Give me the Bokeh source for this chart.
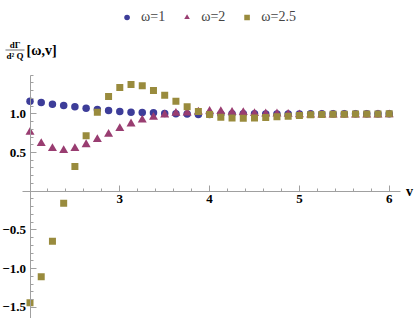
from bokeh.plotting import figure
from bokeh.models import FixedTicker, Legend, LegendItem, Label, BoxAnnotation, Range1d
from bokeh.embed import file_html
from bokeh.resources import INLINE

# ---- data ----
v = [2.0, 2.125, 2.25, 2.375, 2.5, 2.625, 2.75, 2.875, 3.0, 3.125, 3.25,
     3.375, 3.5, 3.625, 3.75, 3.875, 4.0, 4.125, 4.25, 4.375, 4.5, 4.625,
     4.75, 4.875, 5.0, 5.125, 5.25, 5.375, 5.5, 5.625, 5.75, 5.875, 6.0]

gamma_w1 = [1.163, 1.146, 1.124, 1.107, 1.090, 1.072, 1.055, 1.042, 1.029,
            1.021, 1.018, 1.013, 1.005, 1.000, 0.996, 0.990, 0.992, 0.996,
            1.000, 1.001, 1.000, 0.999, 0.998, 0.998, 0.999, 1.000, 1.000,
            1.000, 1.000, 1.000, 1.000, 1.000, 1.000]

gamma_w2 = [0.762, 0.616, 0.552, 0.526, 0.552, 0.603, 0.668, 0.736, 0.810,
            0.871, 0.922, 0.956, 0.987, 1.008, 1.013, 1.025, 1.034, 1.030,
            1.020, 1.017, 1.004, 1.000, 1.000, 0.995, 0.990, 0.985, 0.985,
            0.985, 0.985, 0.985, 0.985, 0.987, 0.990]

gamma_w25 = [-1.442, -1.106, -0.646, -0.155, 0.319, 0.716, 1.021, 1.224, 1.340,
             1.377, 1.362, 1.301, 1.240, 1.163, 1.092, 1.030, 0.991, 0.956,
             0.945, 0.941, 0.945, 0.952, 0.963, 0.969, 0.978, 0.987, 0.990,
             0.993, 0.995, 0.997, 0.998, 0.999, 1.000]

series_labels = ["ω=1", "ω=2", "ω=2.5"]
series_colors = ["#3d3d99", "#993d71", "#998b3d"]

x_major = [3, 4, 5, 6]
x_major_labels = ["3", "4", "5", "6"]
y_major = [-1.5, -1.0, -0.5, 0.5, 1.0]
y_major_labels = ["\u22121.5", "\u22121.0", "\u22120.5", "0.5", "1.0"]

# ---- layout (picture pixels -> data) ----
W, H = 415, 318
X0, XS = 29.5, 89.8      # pixel x of v=2, px per unit
Y0, YS = 190.7, 77.4     # pixel y of 0, px per unit


def px2x(px):
    return 2 + (px - X0) / XS


def py2y(py):
    return (Y0 - py) / YS


x_range = Range1d(px2x(0), px2x(W))
y_range = Range1d(py2y(H), py2y(0))

p = figure(width=W, height=H, output_backend="svg", toolbar_location=None,
           x_range=x_range, y_range=y_range, min_border=0)
p.grid.visible = False
p.outline_line_color = None
p.background_fill_color = "white"

axis_color = "#a0a0a0"
font = "Liberation Serif"

xa = p.xaxis[0]
xa.fixed_location = 0
xa.bounds = (px2x(21.7), px2x(400))
xa.ticker = FixedTicker(ticks=x_major,
                        minor_ticks=[round(2.2 + 0.2 * i, 1) for i in range(20)])
xa.major_label_overrides = {t: s for t, s in zip(x_major, x_major_labels)}

ya = p.yaxis[0]
ya.fixed_location = 2
ya.bounds = (-1.8, py2y(75))
ya.ticker = FixedTicker(ticks=y_major,
                        minor_ticks=[round(-1.5 + 0.1 * i, 1) for i in range(31)])
ya.major_label_overrides = {t: s for t, s in zip(y_major, y_major_labels)}

for ax in (xa, ya):
    ax.axis_line_color = axis_color
    ax.major_tick_line_color = axis_color
    ax.minor_tick_line_color = axis_color
    ax.major_tick_in = 6
    ax.major_tick_out = 0
    ax.minor_tick_in = 3
    ax.minor_tick_out = 0
    ax.major_label_text_font = font
    ax.major_label_text_font_style = "bold"
    ax.major_label_text_font_size = "13px"
    ax.major_label_text_color = "black"
    ax.major_label_standoff = 4

markers = ["circle", "triangle", "square"]
sizes = [7.5, 9, 7]
ys = [gamma_w1, gamma_w2, gamma_w25]
renderers = []
for yv, m, s, c in zip(ys, markers, sizes, series_colors):
    r = p.scatter(v, yv, marker=m, size=s, fill_color=c, line_color=None)
    renderers.append(r)

legend = Legend(items=[LegendItem(label=l, renderers=[r])
                       for l, r in zip(series_labels, renderers)],
                orientation="horizontal", location="top_center",
                label_text_font=font, label_text_font_size="14px",
                glyph_width=14, glyph_height=14, label_height=18,
                label_standoff=8, spacing=14, padding=0, margin=8,
                border_line_color=None, background_fill_alpha=0)
p.add_layout(legend)

# y axis label: dΓ / d²Q [ω,v]
lab_kw = dict(text_font=font, text_font_style="bold", text_color="black",
              text_baseline="middle")
p.add_layout(Label(x=px2x(14.5), y=py2y(44), text="dΓ", text_align="center",
                   text_font_size="9px", **lab_kw))
p.add_layout(Label(x=px2x(14.5), y=py2y(55.5), text="d² Q", text_align="center",
                   text_font_size="9px", **lab_kw))
p.add_layout(BoxAnnotation(left=px2x(5), right=px2x(24), top=py2y(49.5),
                           bottom=py2y(49.5), fill_alpha=0, line_color="black",
                           line_width=1))
p.add_layout(Label(x=px2x(26), y=py2y(50), text="[ω,v]", text_align="left",
                   text_font_size="14px", **lab_kw))

# x axis label
p.add_layout(Label(x=px2x(409), y=0, text="v", text_align="center",
                   text_font_size="14px", **lab_kw))

open("out.html", "w").write(file_html(p, INLINE))
